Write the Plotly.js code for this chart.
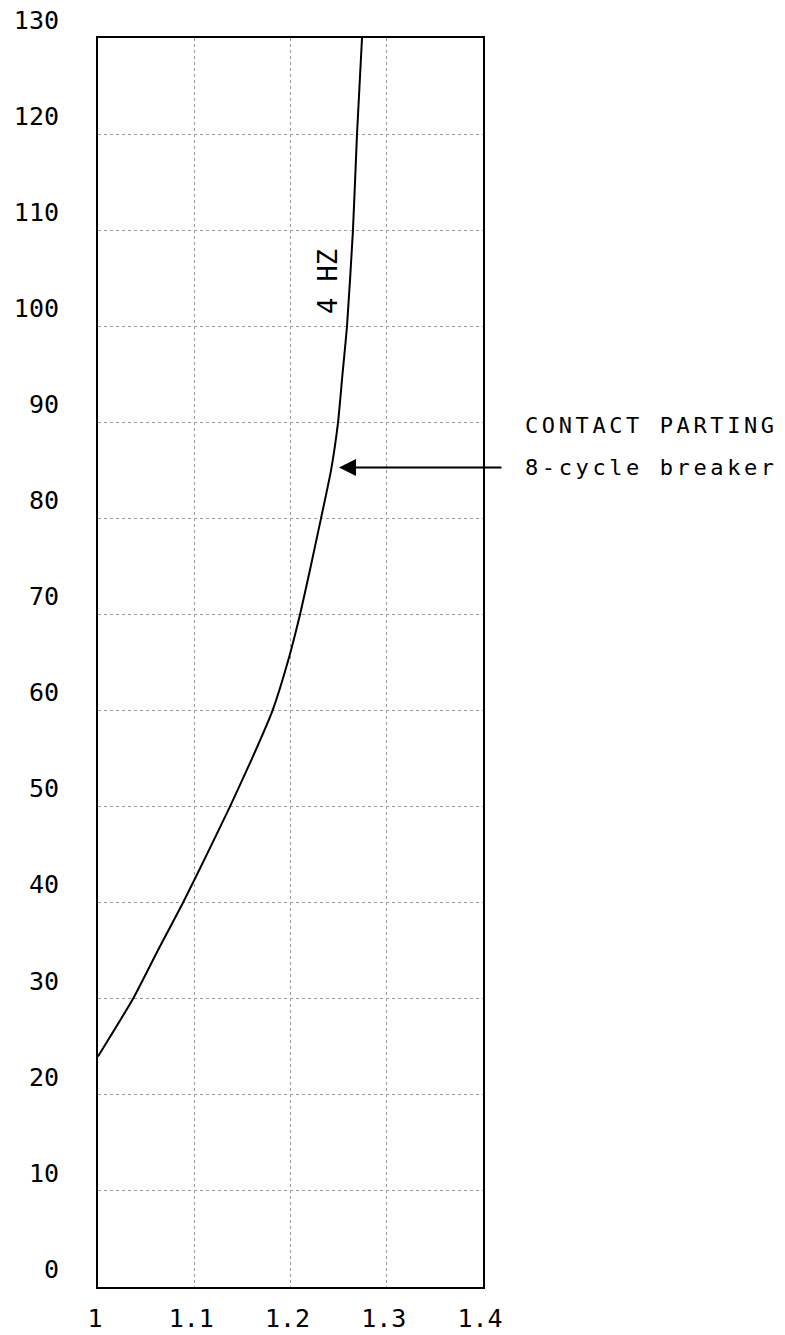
<!DOCTYPE html>
<html>
<head>
<meta charset="utf-8">
<script src="https://cdn.plot.ly/plotly-3.0.1.min.js"></script>
<style>
html,body{margin:0;padding:0;background:#fff;}
#chart{width:785px;height:1335px;}
.annotation-text.spaced{letter-spacing:3.6px;}
</style>
</head>
<body>
<div id="chart"></div>
<script>
// Curve "4 HZ": x (ratio) vs y
const curveX = [1.000, 1.0364, 1.062, 1.0883, 1.113, 1.1371, 1.160, 1.1813, 1.197, 1.2099, 1.221, 1.2317, 1.2421, 1.2494, 1.254, 1.2587, 1.2649, 1.2691, 1.2743];
const curveY = [24, 30, 35, 40, 45, 50, 55, 60, 65, 70, 75, 80, 85, 90, 95, 100, 110, 120, 130];

const xTicks = [1, 1.1, 1.2, 1.3, 1.4];
const xTickLabels = ['1', '1.1', '1.2', '1.3', '1.4'];
const yTicks = [0, 10, 20, 30, 40, 50, 60, 70, 80, 90, 100, 110, 120, 130];
const yTickLabels = ['0', '10', '20', '30', '40', '50', '60', '70', '80', '90', '100', '110', '120', '130'];

const curveLabel = '4 HZ';
const noteLine1 = 'CONTACT PARTING';
const noteLine2 = '8-cycle breaker';
const arrowPoint = {x: 1.2504, y: 85.3};
const arrowTail = {x: 1.4208, y: 85.3};
const notePos = {x: 1.104, y1: 89.7, y2: 85.3};   // x in paper fraction
const labelPos = {x: 1.238, y: 104.6};

const FONT = '"DejaVu Sans Mono", "Liberation Mono", monospace';

const trace = {
  x: curveX, y: curveY, type: 'scatter', mode: 'lines',
  line: {color: '#000', width: 2, shape: 'spline', smoothing: 0.5}, hoverinfo: 'skip', showlegend: false
};

const layout = {
  width: 785, height: 1335,
  margin: {l: 98, r: 302, t: 38, b: 48},
  paper_bgcolor: '#fff', plot_bgcolor: '#fff',
  showlegend: false,
  xaxis: {
    range: [1, 1.4], tickvals: xTicks, ticktext: xTickLabels,
    showgrid: true, gridcolor: '#9a9a9a', griddash: 'dot', gridwidth: 1,
    showline: true, linecolor: '#000', linewidth: 2, mirror: true,
    zeroline: false, ticks: '',
    tickfont: {family: FONT, size: 25, color: '#000'},
    ticklabelstandoff: 8, ticklabelshift: -3
  },
  yaxis: {
    range: [0, 130], tickvals: yTicks, ticktext: yTickLabels,
    showgrid: true, gridcolor: '#9a9a9a', griddash: 'dot', gridwidth: 1,
    showline: true, linecolor: '#000', linewidth: 2, mirror: true,
    zeroline: false, ticks: '',
    tickfont: {family: FONT, size: 25, color: '#000'},
    ticklabelstandoff: 32, ticklabelshift: -18
  },
  annotations: [
    {x: labelPos.x, y: labelPos.y, xref: 'x', yref: 'y', text: curveLabel,
     textangle: -90, showarrow: false, font: {family: FONT, size: 27, color: '#000'}},
    {x: arrowPoint.x, y: arrowPoint.y, xref: 'x', yref: 'y',
     ax: arrowTail.x, ay: arrowTail.y, axref: 'x', ayref: 'y',
     text: '', showarrow: true, arrowhead: 2, arrowsize: 1.7, arrowwidth: 2, arrowcolor: '#000', standoff: 0},
    {x: notePos.x, y: notePos.y1, xref: 'paper', yref: 'y', text: noteLine1,
     xanchor: 'left', align: 'left', showarrow: false, font: {family: FONT, size: 22, color: '#000'}},
    {x: notePos.x, y: notePos.y2, xref: 'paper', yref: 'y', text: noteLine2,
     xanchor: 'left', align: 'left', showarrow: false, font: {family: FONT, size: 22, color: '#000'}}
  ]
};

Plotly.newPlot('chart', [trace], layout, {staticPlot: true, displayModeBar: false}).then(function(){
  document.querySelectorAll('.annotation-text').forEach(function(el){
    const t = el.textContent;
    if (t === noteLine1 || t === noteLine2) el.classList.add('spaced');
  });
});
</script>
</body>
</html>
